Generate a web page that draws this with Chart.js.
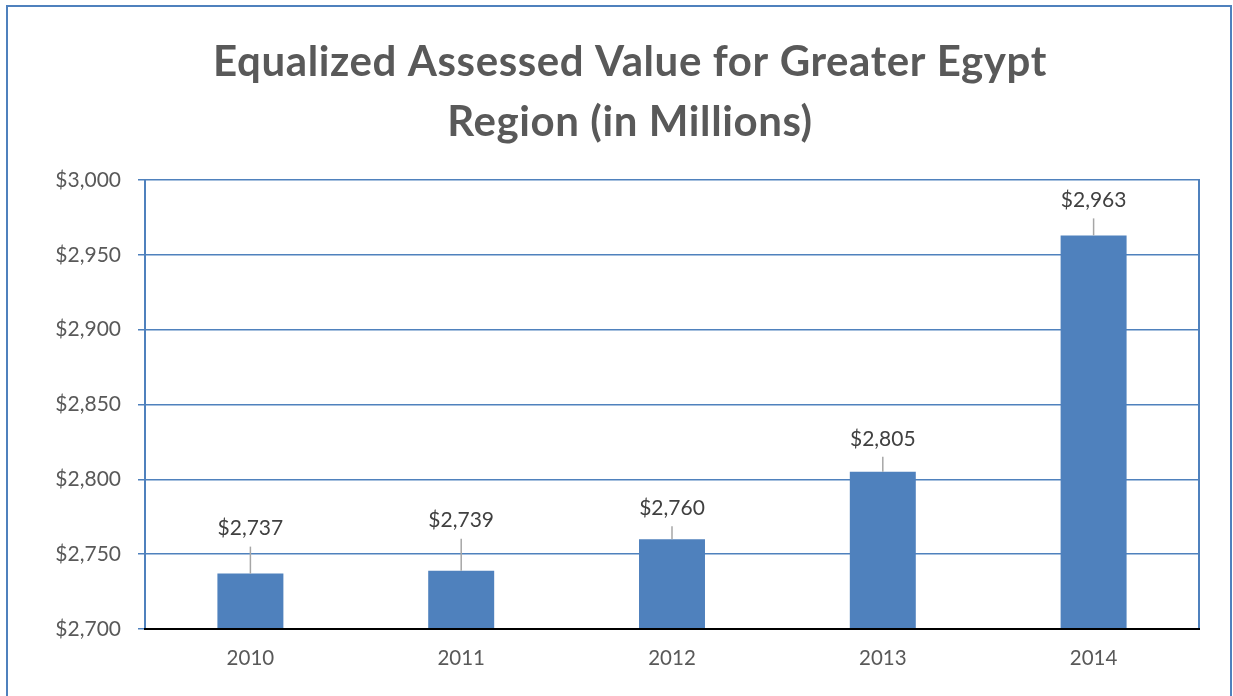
<!DOCTYPE html>
<html>
<head>
<meta charset="utf-8">
<script src="https://cdn.jsdelivr.net/npm/chart.js@4.4.1/dist/chart.umd.min.js"></script>
<style>
  html, body { margin: 0; padding: 0; background: #fff; }
  #wrap { position: relative; width: 1233px; height: 696px; overflow: hidden; }
  #frame {
    position: absolute; left: 6px; top: 5px; width: 1226px; height: 720px;
    box-sizing: border-box; border: 2px solid #4F81BD;
  }
  canvas { position: absolute; left: 0; top: 0; }
</style>
</head>
<body>
<div id="wrap">
  <div id="frame"></div>
  <canvas id="chart" width="1233" height="696"></canvas>
</div>
<script>
// --- data ---
const titleLines = ['Equalized Assessed Value for Greater Egypt', 'Region (in Millions)'];
const categories = ['2010', '2011', '2012', '2013', '2014'];
const values = [2737, 2739, 2760, 2805, 2963];
const yMin = 2700, yMax = 3000, yStep = 50;

// how far each value label sits above its bar (px), as in the original
const labelLift = [45, 50, 31, 33, 35];

const BLUE = '#4F81BD';
const GREY = '#595959';
const FONT = 'Lato, "Open Sans", sans-serif';

const money = v => '$' + v.toLocaleString('en-US');

// title, plot frame and value labels with leader lines
const decorPlugin = {
    id: 'decor',
    afterDraw(chart) {
        const { ctx, chartArea: a } = chart;
        ctx.save();

        // title
        ctx.fillStyle = GREY;
        ctx.font = `bold 42px ${FONT}`;
        ctx.letterSpacing = '0.6px';
        ctx.textAlign = 'center';
        ctx.textBaseline = 'middle';
        ctx.fillText(titleLines[0], 630, 62);
        ctx.fillText(titleLines[1], 630, 122);
        ctx.letterSpacing = '0px';

        // right edge of plot
        ctx.strokeStyle = BLUE;
        ctx.lineWidth = 2;
        ctx.beginPath();
        ctx.moveTo(a.right, a.top - 1);
        ctx.lineTo(a.right, a.bottom);
        ctx.stroke();

        // value labels
        const meta = chart.getDatasetMeta(0);
        ctx.font = `21px ${FONT}`;
        meta.data.forEach((bar, i) => {
            const top = bar.y;
            const cy = top - labelLift[i];
            ctx.strokeStyle = '#A6A6A6';
            ctx.lineWidth = 1.5;
            ctx.beginPath();
            ctx.moveTo(bar.x, cy + 18);
            ctx.lineTo(bar.x, top);
            ctx.stroke();
            ctx.fillStyle = '#404040';
            ctx.fillText(money(values[i]), bar.x, cy);
        });

        // category axis line
        ctx.strokeStyle = '#000';
        ctx.lineWidth = 2;
        ctx.beginPath();
        ctx.moveTo(a.left - 1, a.bottom);
        ctx.lineTo(a.right + 1, a.bottom);
        ctx.stroke();

        ctx.restore();
    }
};

new Chart(document.getElementById('chart'), {
    type: 'bar',
    data: {
        labels: categories,
        datasets: [{
            data: values,
            backgroundColor: BLUE,
            borderWidth: 0,
            categoryPercentage: 1,
            barPercentage: 0.313
        }]
    },
    options: {
        responsive: false,
        animation: false,
        devicePixelRatio: 1,
        layout: { padding: { top: 180, right: 34, left: 0, bottom: 0 } },
        plugins: {
            legend: { display: false },
            title: { display: false },
            tooltip: { enabled: false }
        },
        scales: {
            x: {
                grid: { display: false, drawTicks: false },
                border: { display: false },
                ticks: { color: GREY, font: { family: FONT, size: 20.5 }, padding: 17 },
                afterFit: s => { s.height = 67; }
            },
            y: {
                min: yMin,
                max: yMax,
                ticks: {
                    stepSize: yStep,
                    color: GREY,
                    font: { family: FONT, size: 21 },
                    padding: 17,
                    callback: v => money(v)
                },
                grid: { color: BLUE, lineWidth: 1.5, tickLength: 7, tickColor: BLUE },
                border: { color: BLUE, width: 2 },
                afterFit: s => { s.width = 145; }
            }
        }
    },
    plugins: [decorPlugin]
});
</script>
</body>
</html>
